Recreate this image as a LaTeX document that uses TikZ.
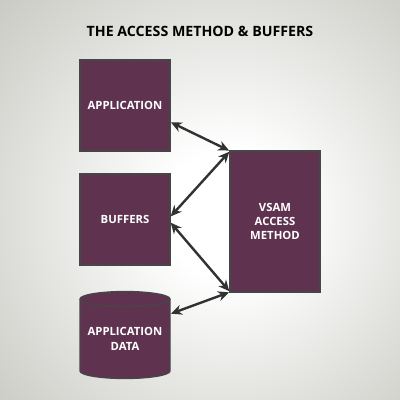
\documentclass[tikz,border=0pt]{standalone}
\usepackage{fontspec}
\setmainfont{Open Sans}
\usetikzlibrary{arrows.meta,calc}
\definecolor{plum}{RGB}{95,50,80}
\definecolor{edge}{RGB}{70,70,70}
\definecolor{arr}{RGB}{50,50,50}
\definecolor{bgc}{RGB}{188,190,181}
\pgfdeclareradialshading{bgshade}{\pgfpoint{4bp}{-2bp}}{color(0bp)=(white); color(8bp)=(white); color(45bp)=(bgc); color(80bp)=(bgc)}
\tikzset{
  boxnode/.style={draw=edge, line width=1.3pt, fill=plum, text=white, font=\bfseries\fontsize{11.3}{14}\selectfont, align=center, minimum width=90pt, inner sep=0pt, outer sep=0pt},
  link/.style={arr, line width=2.4pt, {Stealth[length=11pt,width=10pt]}-{Stealth[length=11pt,width=10pt]}, shorten <=1pt, shorten >=1pt}
}
\begin{document}
\begin{tikzpicture}[x=1pt,y=-1pt]
\useasboundingbox (0,0) rectangle (400,400);
\shade[shading=bgshade] (0,0) rectangle (400,400);
\node[font=\bfseries\fontsize{14.2}{16}\selectfont, text=black] (title) at (200,31) {THE ACCESS METHOD \& BUFFERS};
\node[boxnode, minimum height=91pt] (app) at (125,105.5) {APPLICATION};
\node[boxnode, minimum height=91pt] (buf) at (125,219.5) {BUFFERS};
\node[boxnode, minimum height=141pt] (vsam) at (275,221.5) {VSAM\\ACCESS\\METHOD};
% cylinder
\draw[draw=edge, line width=1.3pt, fill=plum] (80,299) -- (80,371) arc[start angle=180, end angle=0, x radius=45, y radius=7.5] -- (170,299) arc[start angle=0, end angle=-180, x radius=45, y radius=7.5] -- cycle;
\draw[draw=edge, line width=1.3pt] (80,299) arc[start angle=180, end angle=0, x radius=45, y radius=7.5];
\node[minimum width=90pt, minimum height=86pt, inner sep=0pt, outer sep=0pt] (data) at (125,335) {};
\node[text=white, font=\bfseries\fontsize{11.3}{15}\selectfont, align=center] at (125,339) {APPLICATION\\DATA};
\draw[link] (app.-20) -- (vsam.north west);
\draw[link] (buf.3) -- (vsam.north west);
\draw[link] (buf.-3) -- (vsam.south west);
\draw[link] (data.25) -- (vsam.south west);
\end{tikzpicture}
\end{document}
